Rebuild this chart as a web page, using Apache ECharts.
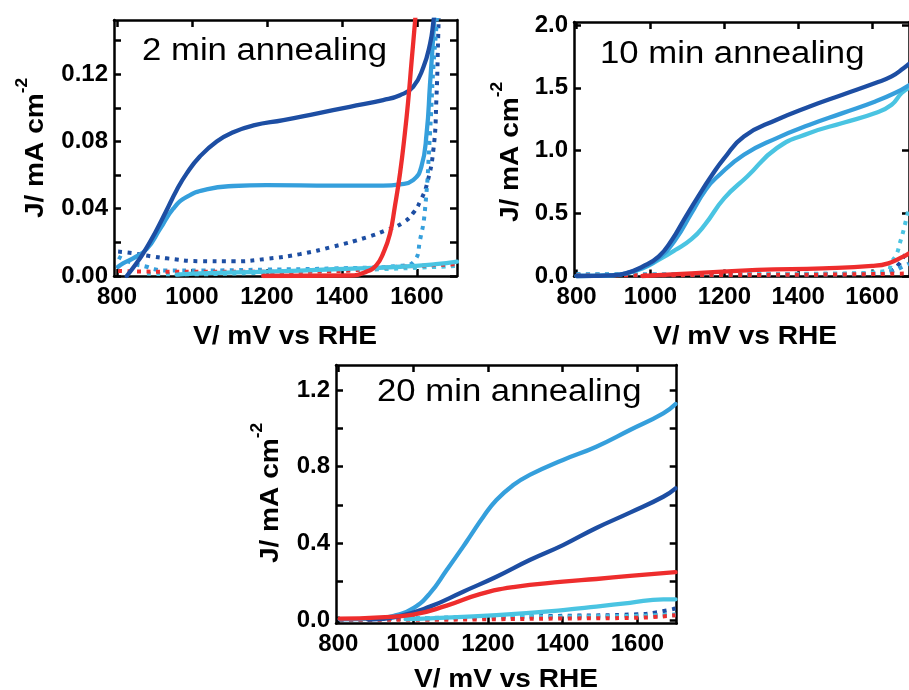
<!DOCTYPE html>
<html>
<head>
<meta charset="utf-8">
<script src="https://cdn.jsdelivr.net/npm/echarts@6/dist/echarts.min.js"></script>
<style>
  html, body { margin: 0; padding: 0; background: #fff; }
  #chart { width: 909px; height: 690px; }
</style>
</head>
<body>
<div id="chart"></div>
<script>
// Photocurrent (light, solid) and dark current (dotted) sweeps, J vs V (mV vs RHE)
// Each array: [potential mV, current density mA cm^-2]

// ---- 2 min annealing ----
const m2DarkBlueLight = [[826,0],[850,0.007],[870,0.0135],[900,0.025],[930,0.038],[959,0.051],[986,0.061],[1021,0.071],[1066,0.08],[1110,0.0855],[1164,0.0895],[1244,0.0927],[1332,0.0966],[1421,0.1006],[1510,0.1046],[1555,0.1075],[1590,0.1125],[1617,0.124],[1635,0.138],[1644,0.151],[1648,0.16]];
const m2BlueLight = [[803,0.0055],[816,0.0075],[843,0.0105],[879,0.016],[915,0.028],[950,0.04],[986,0.047],[1039,0.0515],[1110,0.0535],[1199,0.054],[1377,0.0537],[1510,0.0537],[1555,0.0545],[1590,0.057],[1612,0.065],[1626,0.085],[1635,0.114],[1644,0.144],[1648,0.16]];
const m2CyanLight = [[959,0.0008],[1021,0.0016],[1199,0.0026],[1377,0.004],[1555,0.0055],[1650,0.007],[1707,0.0085]];
const m2RedLight = [[1190,0],[1421,0.0003],[1466,0.0026],[1492,0.0065],[1510,0.0135],[1528,0.025],[1541,0.041],[1555,0.061],[1568,0.085],[1577,0.1046],[1586,0.128],[1595,0.151],[1598,0.16]];
const m2DarkBlueDark = [[803,0.0145],[843,0.0135],[897,0.0115],[932,0.0105],[1021,0.0088],[1110,0.0087],[1199,0.0102],[1288,0.013],[1377,0.0175],[1466,0.023],[1519,0.0273],[1563,0.0317],[1590,0.0374],[1610,0.045],[1626,0.054],[1644,0.075],[1652,0.105],[1657,0.144],[1659,0.16]];
const m2BlueDark = [[803,0.0115],[843,0.0075],[879,0.0055],[900,0.004],[932,0.0033],[1021,0.0033],[1199,0.0038],[1377,0.0045],[1555,0.006],[1595,0.0095],[1608,0.021],[1621,0.038],[1635,0.085],[1644,0.124],[1652,0.148],[1655,0.16]];
const m2CyanDark = [[880,0.0015],[960,0.001],[1200,0.002],[1500,0.004],[1707,0.006]];
const m2RedDark = [[803,0.003],[950,0.0025],[1200,0.0025],[1400,0.003],[1480,0.0045],[1600,0.006],[1707,0.007]];

// ---- 10 min annealing ----
const m10DarkBlueLight = [[800,0],[850,0.001],[889,0.005],[933,0.021],[978,0.074],[1022,0.154],[1058,0.287],[1093,0.46],[1129,0.633],[1164,0.793],[1200,0.94],[1253,1.112],[1342,1.245],[1431,1.351],[1520,1.445],[1609,1.538],[1653,1.59],[1686,1.657],[1700,1.69]];
const m10BlueLight = [[800,0],[889,0.005],[933,0.02],[978,0.065],[1022,0.141],[1067,0.287],[1111,0.5],[1150,0.69],[1182,0.793],[1253,0.966],[1342,1.099],[1431,1.205],[1520,1.298],[1609,1.391],[1662,1.458],[1700,1.52]];
const m10CyanLight = [[800,0],[889,0.005],[933,0.02],[978,0.06],[1022,0.128],[1067,0.207],[1111,0.293],[1147,0.407],[1200,0.62],[1262,0.793],[1342,1.019],[1431,1.139],[1520,1.219],[1609,1.298],[1653,1.364],[1680,1.458],[1700,1.5]];
const m10RedLight = [[978,0],[1111,0.021],[1289,0.048],[1467,0.061],[1600,0.08],[1644,0.101],[1684,0.154],[1700,0.18]];
const m10DarkBlueDark = [[800,0.01],[900,0.01],[1000,0.01],[1200,0.012],[1400,0.014],[1600,0.02],[1650,0.04],[1671,0.088],[1689,0.167],[1700,0.2]];
const m10BlueDark = [[800,0.015],[1000,0.012],[1400,0.012],[1600,0.015],[1653,0.035],[1680,0.07],[1700,0.1]];
const m10CyanDark = [[800,0.01],[1200,0.015],[1500,0.02],[1640,0.04],[1653,0.11],[1667,0.18],[1675,0.26],[1682,0.33],[1689,0.41],[1700,0.55]];
const m10RedDark = [[800,0.005],[1200,0.008],[1500,0.012],[1700,0.02]];

// ---- 20 min annealing ----
const m20DarkBlueLight = [[880,0.002],[956,0.017],[1045,0.07],[1134,0.148],[1223,0.226],[1312,0.313],[1401,0.391],[1490,0.48],[1580,0.56],[1669,0.643],[1702,0.687]];
const m20BlueLight = [[804,0.003],[911,0.009],[956,0.026],[1000,0.061],[1045,0.139],[1090,0.261],[1134,0.383],[1152,0.435],[1188,0.539],[1223,0.626],[1268,0.704],[1312,0.757],[1401,0.835],[1490,0.904],[1580,0.991],[1669,1.078],[1702,1.127]];
const m20CyanLight = [[980,0.005],[1045,0.009],[1223,0.026],[1401,0.052],[1490,0.07],[1580,0.09],[1669,0.108],[1702,0.108]];
const m20RedLight = [[804,0.007],[911,0.014],[1000,0.028],[1090,0.075],[1179,0.135],[1268,0.172],[1401,0.2],[1490,0.214],[1580,0.23],[1702,0.25]];
const m20DarkBlueDark = [[804,0.003],[900,0.004],[1000,0.008],[1200,0.017],[1400,0.022],[1600,0.03],[1650,0.04],[1702,0.06]];
const m20BlueDark = [[804,0.003],[1000,0.006],[1200,0.012],[1400,0.016],[1600,0.02],[1702,0.026]];
const m20CyanDark = [[804,0.003],[1000,0.01],[1200,0.014],[1400,0.018],[1600,0.022],[1702,0.03]];
const m20RedDark = [[804,0.002],[1000,0.001],[1200,0.004],[1400,0.008],[1600,0.012],[1702,0.025]];

// Axis ticks and labels
const xTicks = [800, 1000, 1200, 1400, 1600];
const y2minTicks = [0, 0.02, 0.04, 0.06, 0.08, 0.10, 0.12, 0.14];
const y2minLabels = [0, 0.04, 0.08, 0.12];
const y10minTicks = [0, 0.5, 1.0, 1.5, 2.0];
const y20minTicks = [0, 0.2, 0.4, 0.6, 0.8, 1.0, 1.2];
const y20minLabels = [0, 0.4, 0.8, 1.2];

const panelTitles = ['2 min annealing', '10 min annealing', '20 min annealing'];
const xTitle = 'V/ mV vs RHE';

const COLORS = { darkBlue: '#1d4ea3', blue: '#359fdc', cyan: '#4ac4e2', red: '#ee2d2d' };
const FONT = '"Liberation Sans", Arial, Helvetica, sans-serif';

const grids = [
  { left: 114, top: 20, width: 343, height: 256 },
  { left: 574, top: 22, width: 340, height: 254.5 },
  { left: 336, top: 365, width: 340.7, height: 258.5 }
];
const xRanges = [[792, 1707], [793, 1700], [794, 1705]];
const yRanges = [[0, 0.1522], [-0.004, 2.024], [-0.018, 1.330]];
const yTickSets = [y2minTicks, y10minTicks, y20minTicks];
const yLabelSets = [y2minLabels, y10minTicks, y20minLabels];
const yDigits = [2, 1, 1];

const axisLineStyle = { color: '#000', width: 2.5 };
const labelStyle = { color: '#000', fontFamily: FONT, fontWeight: 'bold', fontSize: 24 };

const xAxes = [], yAxes = [];
grids.forEach((g, i) => {
  ['bottom', 'top'].forEach(pos => {
    xAxes.push({
      type: 'value', gridIndex: i, position: pos,
      min: xRanges[i][0], max: xRanges[i][1],
      axisLine: { show: true, onZero: false, lineStyle: axisLineStyle },
      axisTick: { show: true, inside: true, length: 7, lineStyle: axisLineStyle, customValues: xTicks },
      axisLabel: Object.assign({
        show: pos === 'bottom', margin: 9, customValues: xTicks,
        formatter: v => String(Math.round(v))
      }, labelStyle),
      splitLine: { show: false }
    });
  });
  ['left', 'right'].forEach(pos => {
    yAxes.push({
      type: 'value', gridIndex: i, position: pos,
      min: yRanges[i][0], max: yRanges[i][1],
      axisLine: { show: true, onZero: false, lineStyle: axisLineStyle },
      axisTick: { show: true, inside: true, length: 7, lineStyle: axisLineStyle, customValues: yTickSets[i] },
      axisLabel: Object.assign({
        show: pos === 'left', margin: 6, customValues: yLabelSets[i],
        formatter: v => Number(v).toFixed(yDigits[i])
      }, labelStyle),
      splitLine: { show: false }
    });
  });
});

function line(panel, data, color, dotted) {
  return {
    type: 'line', xAxisIndex: panel * 2, yAxisIndex: panel * 2,
    data: data, showSymbol: false, smooth: 0.5,
    clip: true, silent: true,
    lineStyle: dotted
      ? { color: color, width: 4, type: [4, 5.5], cap: 'butt' }
      : { color: color, width: 4.3, cap: 'round', join: 'round' }
  };
}

const panelSets = [
  [m2DarkBlueDark, m2BlueDark, m2CyanDark, m2RedDark, m2CyanLight, m2BlueLight, m2DarkBlueLight, m2RedLight],
  [m10DarkBlueDark, m10BlueDark, m10CyanDark, m10RedDark, m10CyanLight, m10BlueLight, m10DarkBlueLight, m10RedLight],
  [m20DarkBlueDark, m20BlueDark, m20CyanDark, m20RedDark, m20CyanLight, m20BlueLight, m20DarkBlueLight, m20RedLight]
];
const seriesColors = [COLORS.darkBlue, COLORS.blue, COLORS.cyan, COLORS.red, COLORS.cyan, COLORS.blue, COLORS.darkBlue, COLORS.red];

const series = [];
panelSets.forEach((set, p) => {
  set.forEach((d, k) => series.push(line(p, d, seriesColors[k], k < 4)));
});

// Titles inside panels, axis titles
const titlePos = [[142, 51], [600, 54], [377, 392]];
const xTitlePos = [[285, 337], [745, 337], [506, 680]];
const yTitlePos = [[32, 148], [507, 152], [267, 493]];

const graphics = [];
panelTitles.forEach((t, i) => {
  graphics.push({
    type: 'text', x: titlePos[i][0], y: titlePos[i][1], scaleX: 1.12, z: 10,
    style: { text: t, fill: '#000', font: '31px ' + FONT, align: 'left', verticalAlign: 'middle' }
  });
  graphics.push({
    type: 'text', x: xTitlePos[i][0], y: xTitlePos[i][1], scaleX: 1.08, z: 10,
    style: { text: xTitle, fill: '#000', font: 'bold 26px ' + FONT, align: 'center', verticalAlign: 'middle' }
  });
  graphics.push({
    type: 'text', x: yTitlePos[i][0], y: yTitlePos[i][1], rotation: Math.PI / 2, scaleX: 1.08, z: 10,
    style: {
      text: '{m|J/ mA cm}{s|-2}', align: 'center', verticalAlign: 'middle',
      rich: {
        m: { fill: '#000', fontFamily: FONT, fontWeight: 'bold', fontSize: 26, lineHeight: 34, verticalAlign: 'bottom' },
        s: { fill: '#000', fontFamily: FONT, fontWeight: 'bold', fontSize: 16, lineHeight: 34, verticalAlign: 'top' }
      }
    }
  });
});

const chart = echarts.init(document.getElementById('chart'), null, { renderer: 'canvas' });
chart.setOption({
  animation: false,
  backgroundColor: '#fff',
  grid: grids.map(g => Object.assign({ containLabel: false }, g)),
  xAxis: xAxes,
  yAxis: yAxes,
  series: series,
  graphic: graphics
});
</script>
</body>
</html>
